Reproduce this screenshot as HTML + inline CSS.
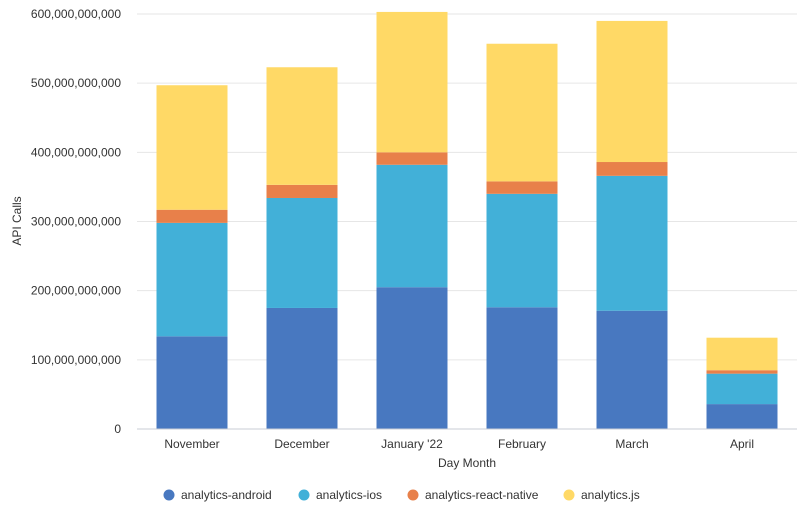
<!DOCTYPE html>
<html><head><meta charset="utf-8"><style>
html,body{margin:0;padding:0;background:#fff;}
svg{display:block;font-family:"Liberation Sans",sans-serif;}
</style></head><body>
<svg id="c" width="805" height="521"></svg>
<script>
const categories=["November","December","January '22","February","March","April"];
const seriesNames=["analytics-android","analytics-ios","analytics-react-native","analytics.js"];
const android=[134,175,205,176,171,36];
const ios=[164,159,177,164,195,44];
const reactNative=[19,19,18,18,20,5];
const js=[180,170,203,199,204,47];
const yTicks=[0,100,200,300,400,500,600];
const colors=["#4878c0","#42b0d8","#e8804a","#ffd966"];
const series=[android,ios,reactNative,js];
const svg=document.getElementById('c');
const NS="http://www.w3.org/2000/svg";
const x0=137,x1=797,y0=429,yTop=14,vmax=600;
const y=v=>y0-(v/vmax)*(y0-yTop);
const step=(x1-x0)/categories.length;
const bw=71;
function el(t,a,txt){const e=document.createElementNS(NS,t);for(const k in a)e.setAttribute(k,a[k]);if(txt!=null)e.textContent=txt;svg.appendChild(e);return e;}
yTicks.forEach(t=>{
 const g=el('line',{x1:x0,x2:x1,y1:y(t),y2:y(t),stroke:t===0?'#c8cdd6':'#e6e6e6','stroke-width':1});
 
 
 const lbl=t===0?'0':(t*1e9).toLocaleString('en-US');
 const tx=el('text',{x:121,y:y(t)+4,'text-anchor':'end','font-size':12,fill:'#333'},lbl);
 
 
});
categories.forEach((c,i)=>{
 const cx=x0+step*(i+0.5);
 let acc=0;
 series.forEach((s,j)=>{
  const r=el('rect',{x:cx-bw/2,y:y(acc+s[i]),width:bw,height:y(acc)-y(acc+s[i]),fill:colors[j]});
  
  
  acc+=s[i];
 });
 const t=el('text',{x:cx,y:448,'text-anchor':'middle','font-size':12,fill:'#333'},c);
 
 
});
const ax=el('line',{x1:x0,x2:x1,y1:y0,y2:y0,stroke:'#c8cdd6','stroke-width':1});


const xt=el('text',{x:467,y:467,'text-anchor':'middle','font-size':12,fill:'#333'},'Day Month');


const yt=el('text',{x:21,y:221,'text-anchor':'middle','font-size':12,fill:'#333',transform:'rotate(-90 21 221)'},'API Calls');


const lx=[169,304,413,569];
seriesNames.forEach((n,j)=>{
 const d=el('circle',{cx:lx[j],cy:495,r:5.5,fill:colors[j]});
 
 
 const t=el('text',{x:lx[j]+12,y:499,'font-size':12,fill:'#333'},n);
 
 
});
</script>
</body></html>
